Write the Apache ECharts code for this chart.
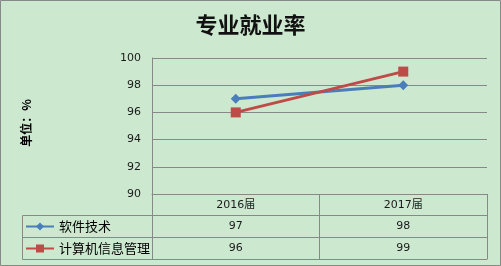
<!DOCTYPE html>
<html><head><meta charset="utf-8">
<script src="https://cdn.jsdelivr.net/npm/echarts@6/dist/echarts.min.js"></script>
<style>html,body{margin:0;padding:0;background:#cce8cf}#c{width:501px;height:266px}</style>
</head><body><div id="c"></div>
<script>
const categories = ['2016届', '2017届'];
const seriesNames = ['软件技术', '计算机信息管理'];
const software = [97, 98];
const infoMgmt = [96, 99];
const yMin = 90, yMax = 100, yStep = 2;

const gridC = '#888888';
const numFont = 'DejaVu Sans, Noto Sans CJK SC';
const cjkFont = 'Noto Sans CJK SC';
const L = 152, R = 487, T = 58, B = 194, rowH = [21, 22, 22];

function rowAxis(data, offset, len, showLabel) {
  return {
    type: 'category', gridIndex: 0, position: 'bottom', offset: offset, data: data,
    axisLine: {show: true, lineStyle: {color: gridC, width: 1}},
    axisTick: {show: len > 0, length: len, interval: 0, lineStyle: {color: gridC, width: 1}},
    axisLabel: {show: showLabel, margin: 6, interval: 0, fontSize: 11, color: '#1a1a1a', fontFamily: numFont},
    splitLine: {show: false}
  };
}

const chart = echarts.init(document.getElementById('c'), null, {renderer: 'canvas'});
chart.setOption({
  backgroundColor: '#cce8cf',
  animation: false,
  title: {
    text: '专业就业率', left: 'center', top: 14, padding: 0,
    textStyle: {fontSize: 22, fontWeight: 'bold', color: '#111', fontFamily: cjkFont}
  },
  legend: {
    data: seriesNames, orient: 'vertical', left: 25, top: 220, padding: 0,
    itemWidth: 28, itemHeight: 10, itemGap: 9,
    textStyle: {fontSize: 13, color: '#000', fontFamily: cjkFont}
  },
  grid: {left: L, right: 501 - R, top: T, bottom: 266 - B},
  xAxis: [
    rowAxis(categories, 0, rowH[0], true),
    rowAxis(software.map(String), rowH[0], rowH[1], true),
    rowAxis(infoMgmt.map(String), rowH[0] + rowH[1], rowH[2], true),
    rowAxis(categories, rowH[0] + rowH[1] + rowH[2], 0, false)
  ],
  yAxis: {
    type: 'value', min: yMin, max: yMax, interval: yStep,
    name: '单位：%', nameLocation: 'middle', nameGap: 120, nameRotate: 90,
    nameTextStyle: {fontSize: 12, fontWeight: 'bold', color: '#000', fontFamily: cjkFont, padding: [0, 0, 0, 6]},
    axisLine: {show: true, lineStyle: {color: gridC, width: 1}},
    axisTick: {show: false},
    axisLabel: {fontSize: 11, color: '#1a1a1a', margin: 11, fontFamily: numFont},
    splitLine: {show: true, lineStyle: {color: gridC, width: 1}}
  },
  series: [
    {name: seriesNames[0], type: 'line', data: software, xAxisIndex: 0,
     symbol: 'diamond', symbolSize: 10, color: '#4a7ebb',
     lineStyle: {width: 3, color: '#4a7ebb'}, itemStyle: {color: '#4a7ebb'}},
    {name: seriesNames[1], type: 'line', data: infoMgmt, xAxisIndex: 0,
     symbol: 'rect', symbolSize: 10, color: '#be4b48',
     lineStyle: {width: 3, color: '#be4b48'}, itemStyle: {color: '#be4b48'}}
  ],
  graphic: [
    {type: 'rect', shape: {x: 0.5, y: 0.5, width: 500, height: 265}, style: {fill: 'none', stroke: gridC, lineWidth: 1}, silent: true},
    {type: 'polyline', shape: {points: [[L, B + rowH[0] + 0.5], [22.5, B + rowH[0] + 0.5], [22.5, B + rowH[0] + rowH[1] + rowH[2] + 0.5], [L, B + rowH[0] + rowH[1] + rowH[2] + 0.5]]}, style: {fill: 'none', stroke: gridC, lineWidth: 1}, silent: true},
    {type: 'line', shape: {x1: 22.5, y1: B + rowH[0] + rowH[1] + 0.5, x2: L, y2: B + rowH[0] + rowH[1] + 0.5}, style: {stroke: gridC, lineWidth: 1}, silent: true}
  ]
});
</script></body></html>
